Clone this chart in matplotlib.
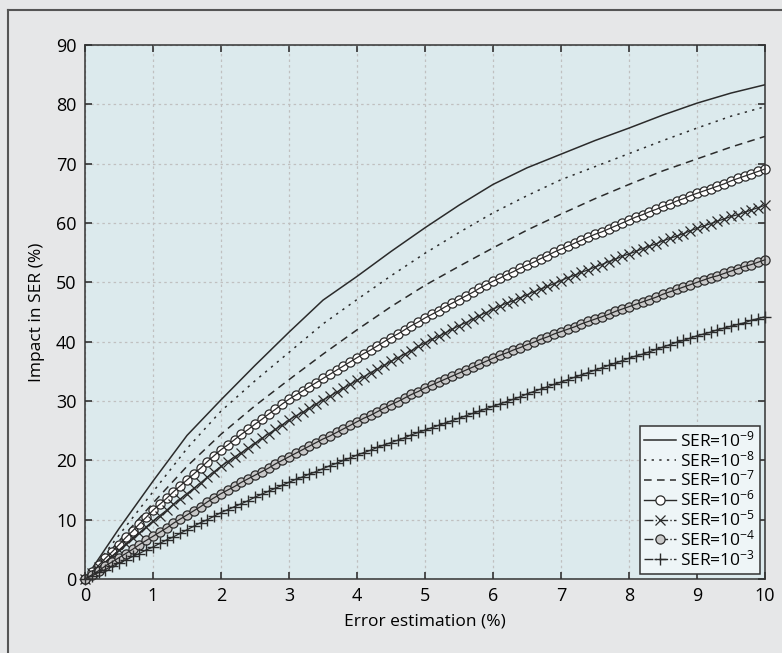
import numpy as np
import matplotlib
matplotlib.use('Agg')
import matplotlib.pyplot as plt
from matplotlib.lines import Line2D

plt.rcParams['font.family'] = ['Open Sans', 'DejaVu Sans']
plt.rcParams['mathtext.fontset'] = 'custom'
plt.rcParams['mathtext.rm'] = 'Open Sans'
plt.rcParams['mathtext.it'] = 'Open Sans'

# --- data ---
x_coarse = [0, 0.5, 1, 1.5, 2, 2.5, 3, 3.5, 4, 4.5, 5,
            5.5, 6, 6.5, 7, 7.5, 8, 8.5, 9, 9.5, 10]
x_fine = [round(0.1 * i, 1) for i in range(101)]

ser_1e9 = [0, 8.5, 16.5, 24.2, 30.2, 36.0, 41.6, 47.0, 51.0, 55.2, 59.2,
           63.0, 66.5, 69.3, 71.6, 73.9, 76.0, 78.2, 80.2, 81.9, 83.3]
ser_1e8 = [0, 7.4, 14.7, 22.0, 28.3, 33.4, 38.2, 43.0, 47.1, 51.1, 54.9,
           58.4, 61.7, 64.6, 67.3, 69.5, 71.7, 73.9, 76.0, 78.0, 79.6]
ser_1e7 = [0, 6.4, 12.8, 19.0, 24.4, 29.2, 33.6, 37.9, 42.0, 45.9, 49.5,
           52.7, 55.8, 58.8, 61.5, 64.1, 66.5, 68.8, 70.8, 72.8, 74.6]

ser_1e6 = [0, 1.2, 2.3, 3.5, 4.6, 5.8, 7.0, 8.1, 9.3, 10.4, 11.6,
           12.6, 13.6, 14.7, 15.7, 16.7, 17.7, 18.7, 19.8, 20.8, 21.8,
           22.6, 23.5, 24.4, 25.2, 26.1, 26.9, 27.8, 28.6, 29.5, 30.3,
           31.0, 31.7, 32.4, 33.1, 33.8, 34.5, 35.2, 35.9, 36.6, 37.3,
           38.0, 38.6, 39.3, 40.0, 40.7, 41.3, 42.0, 42.7, 43.3, 44.0,
           44.6, 45.2, 45.9, 46.5, 47.1, 47.7, 48.3, 49.0, 49.6, 50.2,
           50.7, 51.3, 51.8, 52.4, 52.9, 53.4, 54.0, 54.5, 55.1, 55.6,
           56.1, 56.6, 57.1, 57.6, 58.1, 58.5, 59.0, 59.5, 60.0, 60.5,
           61.0, 61.4, 61.9, 62.3, 62.8, 63.2, 63.7, 64.1, 64.6, 65.0,
           65.4, 65.8, 66.2, 66.6, 67.1, 67.5, 67.9, 68.3, 68.7, 69.1]
ser_1e5 = [0, 1.0, 2.0, 2.9, 3.9, 4.9, 5.9, 6.9, 7.8, 8.8, 9.8,
           10.7, 11.6, 12.6, 13.5, 14.4, 15.3, 16.2, 17.2, 18.1, 19.0,
           19.8, 20.6, 21.3, 22.1, 22.9, 23.7, 24.5, 25.2, 26.0, 26.8,
           27.5, 28.1, 28.8, 29.5, 30.2, 30.8, 31.5, 32.2, 32.8, 33.5,
           34.1, 34.8, 35.4, 36.0, 36.7, 37.3, 37.9, 38.5, 39.2, 39.8,
           40.4, 40.9, 41.5, 42.1, 42.7, 43.2, 43.8, 44.4, 44.9, 45.5,
           46.0, 46.5, 46.9, 47.4, 47.9, 48.4, 48.9, 49.3, 49.8, 50.3,
           50.8, 51.2, 51.7, 52.1, 52.6, 53.0, 53.5, 53.9, 54.4, 54.8,
           55.2, 55.7, 56.1, 56.5, 57.0, 57.4, 57.8, 58.2, 58.7, 59.1,
           59.5, 59.9, 60.3, 60.7, 61.1, 61.4, 61.8, 62.2, 62.6, 63.0]
ser_1e4 = [0, 0.7, 1.4, 2.2, 2.9, 3.6, 4.3, 5.0, 5.8, 6.5, 7.2,
           7.9, 8.6, 9.4, 10.1, 10.8, 11.5, 12.2, 13.0, 13.7, 14.4,
           15.0, 15.6, 16.3, 16.9, 17.5, 18.1, 18.7, 19.4, 20.0, 20.6,
           21.2, 21.8, 22.4, 23.0, 23.6, 24.1, 24.7, 25.3, 25.9, 26.5,
           27.1, 27.6, 28.2, 28.8, 29.4, 29.9, 30.5, 31.1, 31.6, 32.2,
           32.7, 33.2, 33.7, 34.2, 34.7, 35.2, 35.7, 36.2, 36.7, 37.2,
           37.7, 38.1, 38.6, 39.0, 39.5, 39.9, 40.4, 40.8, 41.3, 41.7,
           42.1, 42.5, 43.0, 43.4, 43.8, 44.2, 44.6, 45.1, 45.5, 45.9,
           46.3, 46.7, 47.1, 47.5, 48.0, 48.4, 48.8, 49.2, 49.6, 50.0,
           50.4, 50.8, 51.1, 51.5, 51.9, 52.3, 52.7, 53.0, 53.4, 53.8]
ser_1e3 = [0, 0.5, 1.1, 1.6, 2.2, 2.7, 3.2, 3.8, 4.3, 4.9, 5.4,
           6.0, 6.6, 7.1, 7.7, 8.3, 8.9, 9.5, 10.0, 10.6, 11.2,
           11.7, 12.2, 12.7, 13.2, 13.8, 14.3, 14.8, 15.3, 15.8, 16.3,
           16.8, 17.2, 17.7, 18.1, 18.6, 19.1, 19.5, 20.0, 20.4, 20.9,
           21.3, 21.7, 22.2, 22.6, 23.0, 23.4, 23.8, 24.3, 24.7, 25.1,
           25.5, 25.9, 26.3, 26.7, 27.1, 27.5, 27.9, 28.3, 28.7, 29.1,
           29.5, 29.9, 30.3, 30.7, 31.2, 31.6, 32.0, 32.4, 32.8, 33.2,
           33.6, 34.0, 34.4, 34.8, 35.2, 35.6, 36.0, 36.4, 36.8, 37.2,
           37.6, 37.9, 38.3, 38.7, 39.1, 39.5, 39.9, 40.2, 40.6, 41.0,
           41.3, 41.6, 42.0, 42.3, 42.6, 42.9, 43.2, 43.6, 43.9, 44.2]

labels = ['SER=10$^{-9}$', 'SER=10$^{-8}$', 'SER=10$^{-7}$', 'SER=10$^{-6}$',
          'SER=10$^{-5}$', 'SER=10$^{-4}$', 'SER=10$^{-3}$']
x_ticks = list(range(0, 11))
y_ticks = list(range(0, 91, 10))

ink = '#2b2b2b'
fig = plt.figure(figsize=(7.82, 6.53), dpi=100, facecolor='#e6e7e8')
ax = fig.add_axes([0.1087, 0.1133, 0.8696, 0.8178])
ax.set_facecolor('#dceaed')

# frame lines round the figure (top and left are visible in the reference)
fig.add_artist(Line2D([8 / 782, 8 / 782], [0, 1 - 10 / 653], color='#555555', lw=1.5))
fig.add_artist(Line2D([8 / 782, 1], [1 - 10 / 653, 1 - 10 / 653], color='#555555', lw=1.5))

ax.plot(x_coarse, ser_1e9, '-', color=ink, lw=1.1, label=labels[0])
ax.plot(x_coarse, ser_1e8, color=ink, lw=1.1, ls=(0, (1.5, 3.5)), label=labels[1])
ax.plot(x_coarse, ser_1e7, color=ink, lw=1.1, ls=(0, (5, 3.5)), label=labels[2])

# marker series: markers first, then the line on top (as in the reference)
marker_series = [
    (ser_1e6, '-', dict(marker='o', ms=6.6, mfc='white', mew=0.9)),
    (ser_1e5, '-.', dict(marker='x', ms=7, mew=0.9)),
    (ser_1e4, '-.', dict(marker='o', ms=6.6, mfc='#c8c8c8', mew=0.9)),
    (ser_1e3, '-.', dict(marker='+', ms=9, mew=1.0)),
]
for (ys, ls, mk), lab in zip(marker_series, labels[3:]):
    ax.plot(x_fine, ys, ls='none', mec=ink, clip_on=False, **mk)
    ax.plot(x_fine, ys, ls='-', color=ink, lw=0.9, clip_on=False)
    # proxy handle for the legend
    ax.plot([], [], ls=ls, color=ink, lw=1.0, mec=ink, label=lab, **mk)

ax.set_xlim(0, 10)
ax.set_ylim(0, 90)
ax.set_xticks(x_ticks)
ax.set_yticks(y_ticks)
ax.tick_params(direction='in', length=5, width=1.2, color='#333333',
               top=True, right=True, labelsize=13, pad=6)
ax.grid(True, color='#c0c0c0', ls=(0, (2, 2.5)), lw=0.9)
for s in ax.spines.values():
    s.set_color('#333333')
    s.set_linewidth(1.1)
    s.set_zorder(3)

ax.set_xlabel('Error estimation (%)', fontsize=12.5, labelpad=6)
ax.set_ylabel('Impact in SER (%)', fontsize=12.5, labelpad=8)

leg = ax.legend(loc='lower right', fontsize=12.5, frameon=True, fancybox=False,
                handlelength=1.8, handletextpad=0.25, labelspacing=0.0,
                borderpad=0.25, borderaxespad=0.3, markerscale=1.0)
leg.get_frame().set_facecolor('#eef5f7')
leg.get_frame().set_edgecolor('#333333')
leg.get_frame().set_linewidth(1.1)
leg.get_frame().set_alpha(1)

fig.savefig('out.png', dpi=100, facecolor=fig.get_facecolor())
